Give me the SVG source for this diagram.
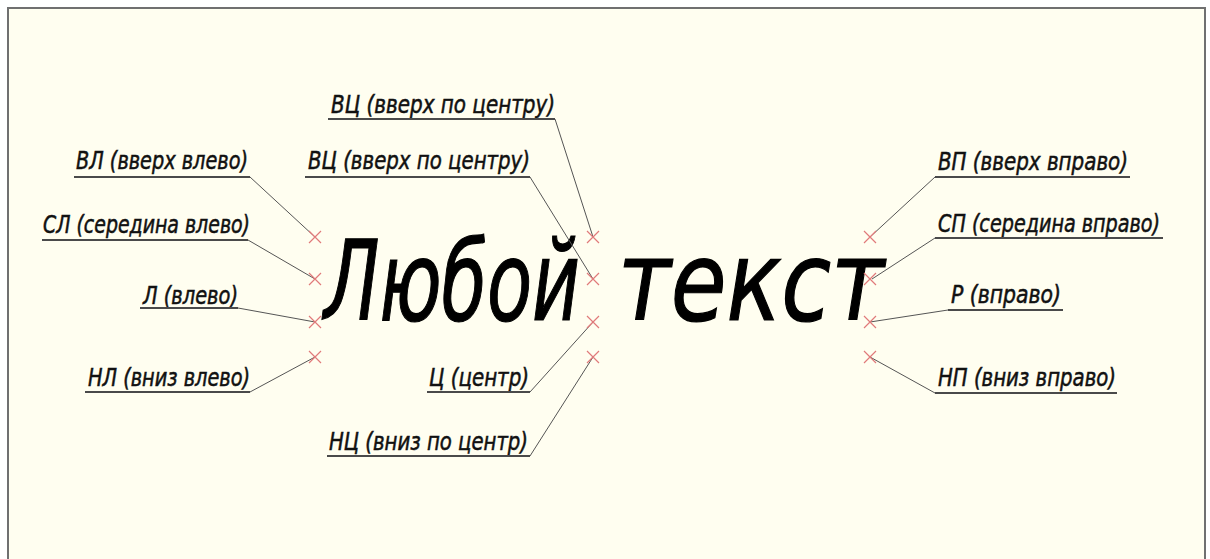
<svg xmlns="http://www.w3.org/2000/svg" width="1210" height="559" viewBox="0 0 1210 559">
<style>
.lbl{font-family:"DejaVu Sans Condensed","Liberation Sans",sans-serif;font-style:italic;font-size:24px;fill:#111;stroke:#111;stroke-width:0.5}
.ul{stroke:#4a4a4a;stroke-width:2;fill:none}
.ld{stroke:#555;stroke-width:1;fill:none}
.x{stroke:#e07a7a;stroke-width:1.2;fill:none}
.big{font-family:"DejaVu Sans Condensed","Liberation Sans",sans-serif;font-style:italic;font-size:92px;fill:#000;stroke:#000;stroke-width:1}
</style>
<defs>
<path id="cr" d="M-6,-6 L6,6 M-6,6 L6,-6"/>
</defs>
<rect x="0" y="0" width="1210" height="559" fill="#ffffff"/>
<rect x="8" y="8" width="1197" height="560" fill="#fffef0" stroke="#707070" stroke-width="2"/>
<g id="main-text" transform="translate(0,320) scale(1,1.2)">
<text class="big" x="324" y="0" textLength="256" lengthAdjust="spacingAndGlyphs">Любой</text>
<text class="big" x="618" y="0" textLength="266" lengthAdjust="spacingAndGlyphs">текст</text>
</g>
<g id="connectors">
<path class="ld" d="M555,119 L593,237"/>
<path class="ld" d="M250,177 L315,237"/>
<path class="ld" d="M530,177 L593,279"/>
<path class="ld" d="M248,240 L315,279"/>
<path class="ld" d="M238,308 L315,322"/>
<path class="ld" d="M250,392 L315,357"/>
<path class="ld" d="M530,392 L593,322"/>
<path class="ld" d="M530,456 L593,357"/>
<path class="ld" d="M935,177 L870,237"/>
<path class="ld" d="M935,238 L872,279"/>
<path class="ld" d="M948,310 L870,322"/>
<path class="ld" d="M935,393 L870,357"/>
</g>
<g id="points">
<use href="#cr" class="x" x="315" y="237"/>
<use href="#cr" class="x" x="315" y="279"/>
<use href="#cr" class="x" x="315" y="322"/>
<use href="#cr" class="x" x="315" y="357"/>
<use href="#cr" class="x" x="593" y="237"/>
<use href="#cr" class="x" x="593" y="279"/>
<use href="#cr" class="x" x="593" y="322"/>
<use href="#cr" class="x" x="593" y="357"/>
<use href="#cr" class="x" x="870" y="237"/>
<use href="#cr" class="x" x="870" y="279"/>
<use href="#cr" class="x" x="870" y="322"/>
<use href="#cr" class="x" x="870" y="357"/>
</g>
<g id="vc-top">
<text class="lbl" x="331" y="113" textLength="224" lengthAdjust="spacingAndGlyphs">ВЦ (вверх по центру)</text>
<path class="ul" d="M328,119 L555,119"/>
</g>
<g id="vl">
<text class="lbl" x="76" y="169" textLength="172" lengthAdjust="spacingAndGlyphs">ВЛ (вверх влево)</text>
<path class="ul" d="M74,177 L250,177"/>
</g>
<g id="vc">
<text class="lbl" x="308" y="169" textLength="222" lengthAdjust="spacingAndGlyphs">ВЦ (вверх по центру)</text>
<path class="ul" d="M305,177 L530,177"/>
</g>
<g id="sl">
<text class="lbl" x="43" y="233" textLength="207" lengthAdjust="spacingAndGlyphs">СЛ (середина влево)</text>
<path class="ul" d="M42,240 L248,240"/>
</g>
<g id="l">
<text class="lbl" x="143" y="304" textLength="95" lengthAdjust="spacingAndGlyphs">Л (влево)</text>
<path class="ul" d="M140,308 L238,308"/>
</g>
<g id="nl">
<text class="lbl" x="88" y="386" textLength="162" lengthAdjust="spacingAndGlyphs">НЛ (вниз влево)</text>
<path class="ul" d="M85,392 L250,392"/>
</g>
<g id="c">
<text class="lbl" x="429" y="386" textLength="100" lengthAdjust="spacingAndGlyphs">Ц (центр)</text>
<path class="ul" d="M427,392 L530,392"/>
</g>
<g id="nc">
<text class="lbl" x="329" y="450" textLength="199" lengthAdjust="spacingAndGlyphs">НЦ (вниз по центр)</text>
<path class="ul" d="M327,456 L530,456"/>
</g>
<g id="vp">
<text class="lbl" x="938" y="170" textLength="190" lengthAdjust="spacingAndGlyphs">ВП (вверх вправо)</text>
<path class="ul" d="M935,177 L1130,177"/>
</g>
<g id="sp">
<text class="lbl" x="938" y="232" textLength="222" lengthAdjust="spacingAndGlyphs">СП (середина вправо)</text>
<path class="ul" d="M935,238 L1163,238"/>
</g>
<g id="r">
<text class="lbl" x="951" y="303" textLength="110" lengthAdjust="spacingAndGlyphs">Р (вправо)</text>
<path class="ul" d="M948,310 L1063,310"/>
</g>
<g id="np">
<text class="lbl" x="938" y="386" textLength="178" lengthAdjust="spacingAndGlyphs">НП (вниз вправо)</text>
<path class="ul" d="M935,393 L1117,393"/>
</g>
</svg>
